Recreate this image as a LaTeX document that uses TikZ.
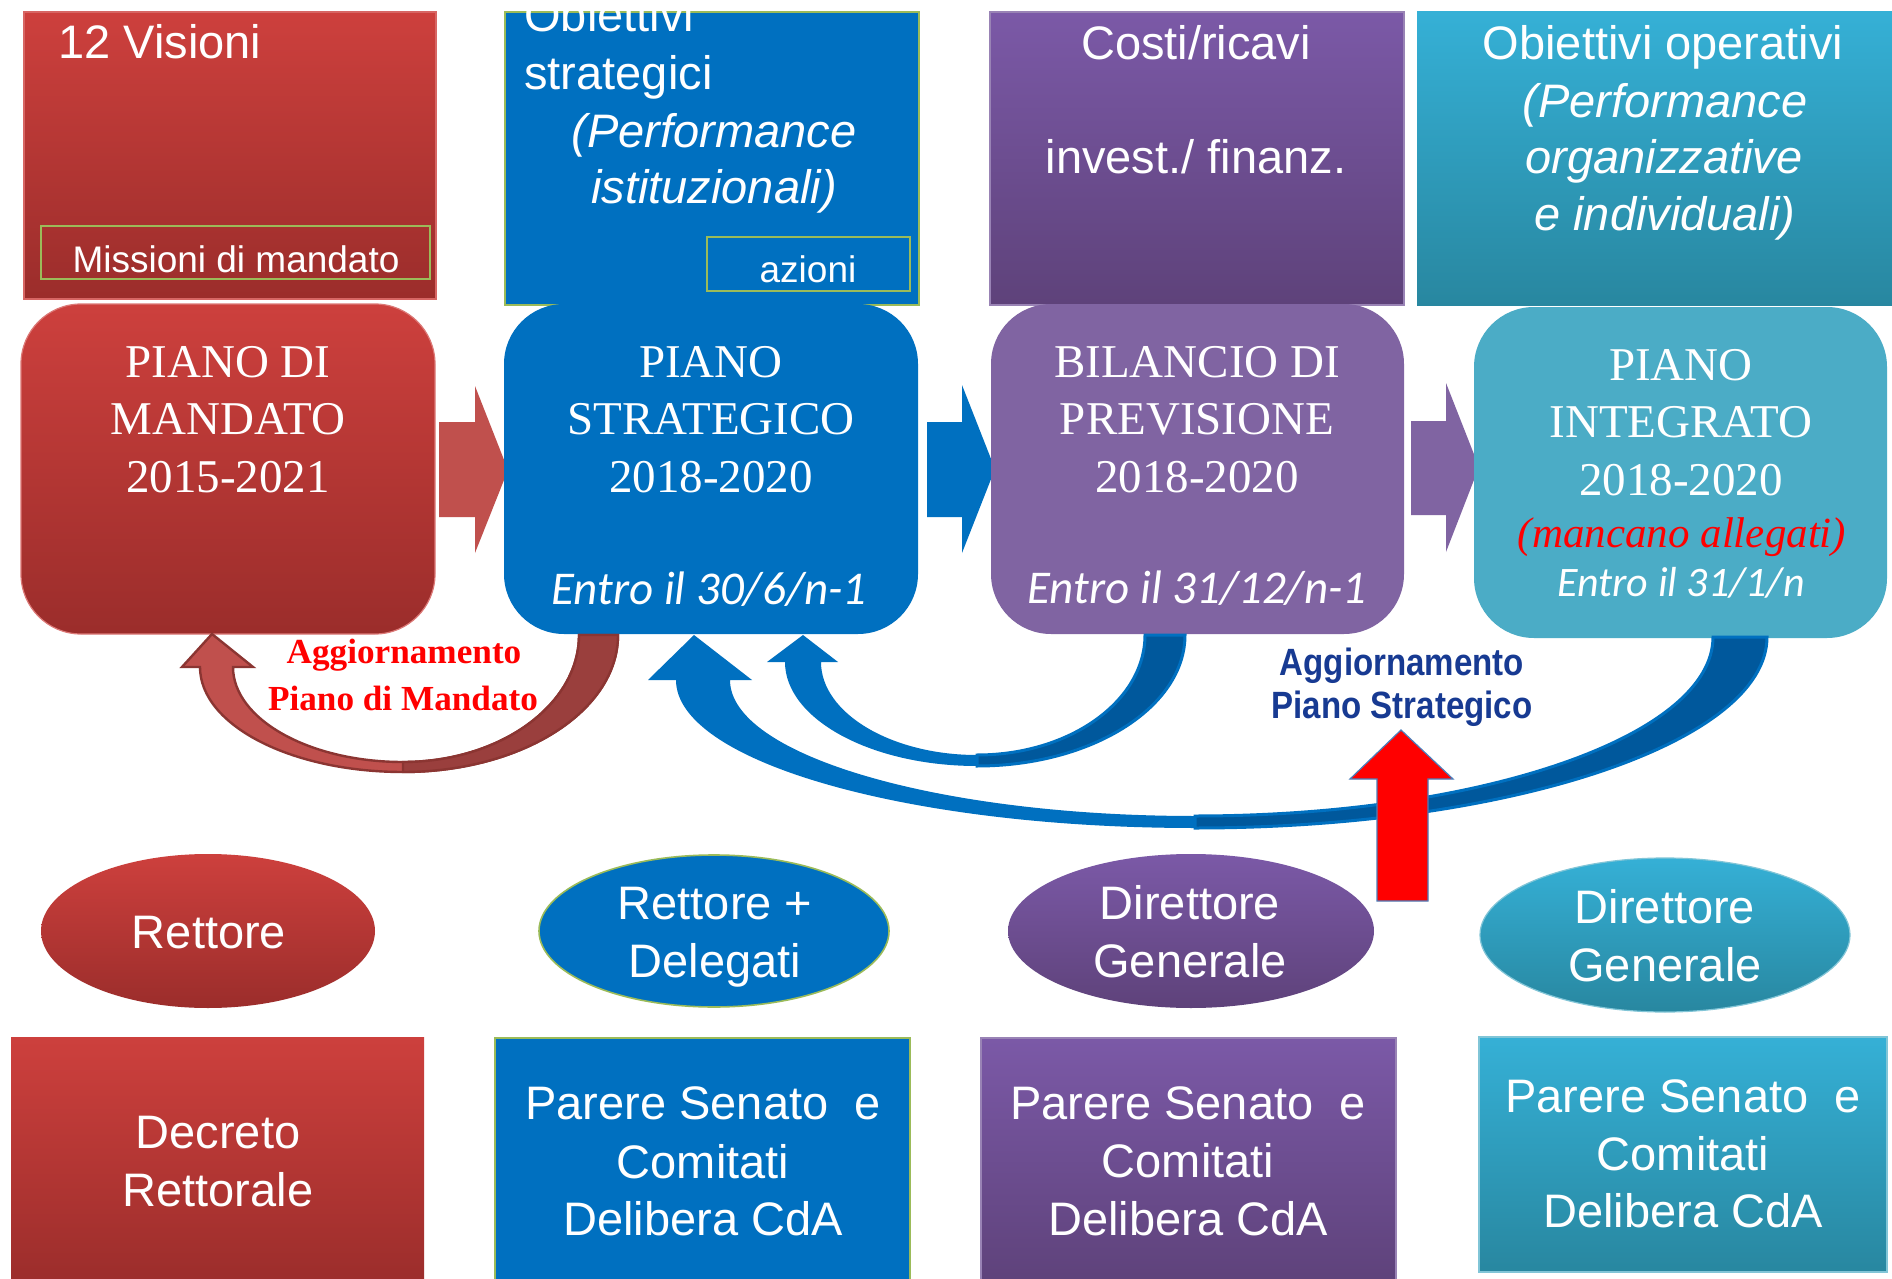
\documentclass[tikz,border=0pt]{standalone}
\usepackage{fontspec}
\setmainfont{Liberation Serif}
\setsansfont{Liberation Sans}
\newfontfamily\calfont{Carlito}
\newfontfamily\narrowsans[FakeStretch=0.87]{Liberation Sans}
\usetikzlibrary{shapes.geometric}

\definecolor{redtop}{HTML}{CD403D}
\definecolor{redbot}{HTML}{9B2D2B}
\definecolor{blu}{HTML}{0070C0}
\definecolor{bludark}{HTML}{00589C}
\definecolor{purtop}{HTML}{7B59A7}
\definecolor{purbot}{HTML}{5E427A}
\definecolor{purmid}{HTML}{8064A2}
\definecolor{cyatop}{HTML}{35B0D6}
\definecolor{cyabot}{HTML}{2887A0}
\definecolor{cyamid}{HTML}{4BACC6}
\definecolor{grn}{HTML}{9BBB59}
\definecolor{arrred}{HTML}{C0504D}
\definecolor{arrreddark}{HTML}{9A3F3D}
\definecolor{arrredline}{HTML}{8B3532}
\definecolor{navy}{HTML}{173A92}
\definecolor{upline}{HTML}{4A7EBB}

\begin{document}
\begin{tikzpicture}[x=0.5pt,y=-0.5pt,
  panel/.style={rectangle, inner sep=0pt, outer sep=0pt},
  redgrad/.style={top color=redtop, bottom color=redbot},
  purgrad/.style={top color=purtop, bottom color=purbot},
  cyagrad/.style={top color=cyatop, bottom color=cyabot},
  plan/.style={rectangle, rounded corners=30pt, inner sep=0pt, outer sep=0pt,
    minimum width=207pt, minimum height=165pt},
  role/.style={ellipse, inner sep=0pt, outer sep=0pt},
  txt/.style={anchor=base, inner sep=0pt, text=white,
    font=\sffamily\fontsize{23.5pt}{28pt}\selectfont},
  txtleft/.style={txt, anchor=base west},
  txtsmall/.style={txt, font=\sffamily\fontsize{18.5pt}{22pt}\selectfont},
  txtit/.style={txt, font=\sffamily\itshape\fontsize{23.5pt}{28pt}\selectfont},
  plantxt/.style={anchor=base, inner sep=0pt, text=white,
    font=\rmfamily\fontsize{23.5pt}{28pt}\selectfont},
  datetxt/.style={anchor=base, inner sep=0pt, text=white,
    font=\calfont\itshape\fontsize{23.5pt}{28pt}\selectfont},
  updred/.style={anchor=base, inner sep=0pt, text=red,
    font=\rmfamily\bfseries\fontsize{17.6pt}{20pt}\selectfont},
  updblue/.style={anchor=base, inner sep=0pt, text=navy,
    font=\narrowsans\bfseries\fontsize{19pt}{22pt}\selectfont},
]
\useasboundingbox[fill=white] (0,0) rectangle (1892,1279);

% ---------- top row: contents of each plan ----------
\node[panel, redgrad, draw=redtop!80!white, line width=0.6pt,
  minimum width=206pt, minimum height=143.5pt] (topR) at (230,155.5) {};
\node[panel, fill=blu, draw=grn, line width=0.8pt,
  minimum width=207pt, minimum height=146.5pt] (topB) at (712,158.5) {};
\node[panel, purgrad, draw=purmid!80!white, line width=0.6pt,
  minimum width=207pt, minimum height=146.5pt] (topP) at (1197,158.5) {};
\node[panel, cyagrad, minimum width=239pt, minimum height=146.5pt] (topC) at (1656,158.5) {};

\node[panel, draw=grn, line width=0.8pt, minimum width=194.5pt, minimum height=26.5pt]
  (missioni) at (235.5,252.5) {};
\node[panel, draw=grn, line width=0.8pt, minimum width=101.5pt, minimum height=27pt]
  (azioni) at (808.5,264) {};

\node[txtleft] (visioni) at (58,59) {12 Visioni};
\node[txtsmall] (missionitxt) at (236,272) {Missioni di mandato};

% the first line runs over the top edge of its box and is cut there
\begin{scope}
  \clip (505,12) rectangle (919,305);
  \node[txtleft] (obst1) at (524,32) {Obiettivi};
  \node[txtleft] (obst2) at (524,90) {strategici};
  \node[txtit] (obst3) at (714,148) {(Performance};
  \node[txtit] (obst4) at (714,204) {istituzionali)};
\end{scope}
\node[txtsmall] (azionitxt) at (808,282) {azioni};

\node[txt] (costi) at (1196,60) {Costi/ricavi};
\node[txt] (invest) at (1196,174) {invest./ finanz.};

\node[txt] (obop1) at (1663,60) {Obiettivi operativi};
\node[txtit] (obop2) at (1665,118) {(Performance};
\node[txtit] (obop3) at (1664,174) {organizzative};
\node[txtit] (obop4) at (1665,230) {e individuali)};

% ---------- block arrows between the plans ----------
\fill[arrred] (439,422) -- (475,422) -- (475,386) -- (508,470) -- (475,553)
  -- (475,517) -- (439,517) -- cycle;
\fill[blu] (927,422) -- (962,422) -- (962,385) -- (995,469) -- (962,553)
  -- (962,517) -- (927,517) -- cycle;
\fill[purmid] (1411,421) -- (1446,421) -- (1446,383) -- (1479,467) -- (1446,552)
  -- (1446,515) -- (1411,515) -- cycle;

% ---------- middle row: the plans ----------
\node[plan, top color=redtop, bottom color=redbot, draw=redtop!70!white, line width=0.6pt]
  (mandato) at (228,469) {};
\node[plan, fill=blu] (strategico) at (711,469) {};
\node[plan, fill=purmid, minimum width=206.5pt] (bilancio) at (1197.5,469) {};
\node[plan, fill=cyamid, minimum width=206.5pt, minimum height=165.5pt]
  (integrato) at (1680.5,472.5) {};

\node[plantxt] (m1) at (228,377) {PIANO DI};
\node[plantxt] (m2) at (228,434) {MANDATO};
\node[plantxt] (m3) at (228,492) {2015-2021};

\node[plantxt] (s1) at (711,377) {PIANO};
\node[plantxt] (s2) at (711,434) {STRATEGICO};
\node[plantxt] (s3) at (711,492) {2018-2020};
\node[datetxt] (s4) at (709,604) {Entro il 30/6/n-1};

\node[plantxt] (b1) at (1197,377) {BILANCIO DI};
\node[plantxt] (b2) at (1197,434) {PREVISIONE};
\node[plantxt] (b3) at (1197,492) {2018-2020};
\node[datetxt] (b4) at (1197,603) {Entro il 31/12/n-1};

\node[plantxt] (i1) at (1681,380) {PIANO};
\node[plantxt] (i2) at (1681,437) {INTEGRATO};
\node[plantxt] (i3) at (1681,495) {2018-2020};
\node[plantxt, text=red, font=\rmfamily\itshape\fontsize{21.5pt}{26pt}\selectfont]
  (i4) at (1682,547) {(mancano allegati)};
\node[datetxt, font=\calfont\itshape\fontsize{21pt}{26pt}\selectfont]
  (i5) at (1681,596) {Entro il 31/1/n};

% ---------- curved feedback arrows ----------
% update of the mandate plan (red)
\fill[arrred, draw=arrredline, line width=1.2pt]
  (618,635) .. controls (618,711) and (522,772) .. (403,772)
  .. controls (291,772) and (200,725) .. (200,667)
  -- (182,667) -- (212,634) -- (253,667) -- (233,667)
  .. controls (233,719) and (309,762) .. (403,762)
  .. controls (500,762) and (579,705) .. (579,635) -- cycle;
\fill[arrreddark, draw=arrredline, line width=1.2pt]
  (618,635) .. controls (618,711) and (522,772) .. (403,772)
  -- (403,762) .. controls (500,762) and (579,705) .. (579,635) -- cycle;

% from the budget back to the strategic plan (blue)
\fill[blu]
  (1185,635) .. controls (1185,707) and (1092,766) .. (977,766)
  .. controls (871,766) and (785,719) .. (785,662)
  -- (767,662) -- (803,635) -- (838,662) -- (821,662)
  .. controls (821,713) and (891,755) .. (977,755)
  .. controls (1070,755) and (1145,701) .. (1145,635) -- cycle;
\fill[bludark, draw=blu, line width=1.5pt]
  (1185,635) .. controls (1185,707) and (1092,766) .. (977,766)
  -- (977,755) .. controls (1070,755) and (1145,701) .. (1145,635) -- cycle;

% from the integrated plan back to the strategic plan (blue)
\fill[blu]
  (676,680) .. controls (676,762) and (909,828) .. (1195,828)
  .. controls (1511,828) and (1767,742) .. (1767,637)
  -- (1713,637)
  .. controls (1713,736) and (1481,816) .. (1195,816)
  .. controls (938,816) and (730,755) .. (730,680)
  -- (752,680) -- (694,635) -- (648,680) -- cycle;
\fill[bludark, draw=blu, line width=1.5pt]
  (1195,828) .. controls (1511,828) and (1767,742) .. (1767,637)
  -- (1713,637) .. controls (1713,736) and (1481,816) .. (1195,816) -- cycle;

\node[updred] (aggm1) at (404,663) {Aggiornamento};
\node[updred] (aggm2) at (403,710) {Piano di Mandato};

\node[updblue] (aggs1) at (1402,675) {Aggiornamento};
\node[updblue] (aggs2) at (1402,718) {Piano Strategico};

% red upward arrow from the Director General
\fill[red, draw=upline, line width=0.6pt]
  (1377,901) -- (1377,779) -- (1350,779) -- (1401,730) -- (1453,779)
  -- (1428,779) -- (1428,901) -- cycle;

% ---------- responsible roles ----------
\node[role, redgrad, minimum width=167pt, minimum height=77pt] (rettore) at (208,931) {};
\node[role, fill=blu, draw=grn, line width=0.8pt, minimum width=175pt, minimum height=76pt]
  (delegati) at (714,931) {};
\node[role, purgrad, minimum width=183pt, minimum height=77pt] (dgP) at (1191,931) {};
\node[role, cyagrad, draw=cyamid!70!white, line width=0.6pt,
  minimum width=185pt, minimum height=77pt] (dgC) at (1665,935) {};

\node[txt] (r1) at (209,948) {Rettore};
\node[txt] (d1) at (715,919) {Rettore +};
\node[txt] (d2) at (715,977) {Delegati};
\node[txt] (g1) at (1190,919) {Direttore};
\node[txt] (g2) at (1190,977) {Generale};
\node[txt] (c1) at (1665,923) {Direttore};
\node[txt] (c2) at (1665,981) {Generale};

% ---------- approval acts ----------
\node[panel, redgrad, minimum width=206.5pt, minimum height=124pt] (decreto) at (217.5,1161) {};
\node[panel, fill=blu, draw=grn, line width=0.8pt, minimum width=207.5pt, minimum height=123.5pt]
  (pareB) at (702.5,1161.5) {};
\node[panel, purgrad, draw=purmid!80!white, line width=0.6pt,
  minimum width=207.5pt, minimum height=123.5pt] (pareP) at (1188.5,1161.5) {};
\node[panel, cyagrad, draw=cyamid!70!white, line width=0.6pt,
  minimum width=204pt, minimum height=117.5pt] (pareC) at (1683,1154.5) {};

\node[txt] (dr1) at (218,1148) {Decreto};
\node[txt] (dr2) at (218,1206) {Rettorale};

\node[txt] (pb1) at (703,1119) {Parere Senato~~e};
\node[txt] (pb2) at (703,1178) {Comitati};
\node[txt] (pb3) at (703,1235) {Delibera CdA};

\node[txt] (pp1) at (1188,1119) {Parere Senato~~e};
\node[txt] (pp2) at (1188,1177) {Comitati};
\node[txt] (pp3) at (1188,1235) {Delibera CdA};

\node[txt] (pc1) at (1683,1112) {Parere Senato~~e};
\node[txt] (pc2) at (1683,1170) {Comitati};
\node[txt] (pc3) at (1683,1227) {Delibera CdA};
\end{tikzpicture}
\end{document}
